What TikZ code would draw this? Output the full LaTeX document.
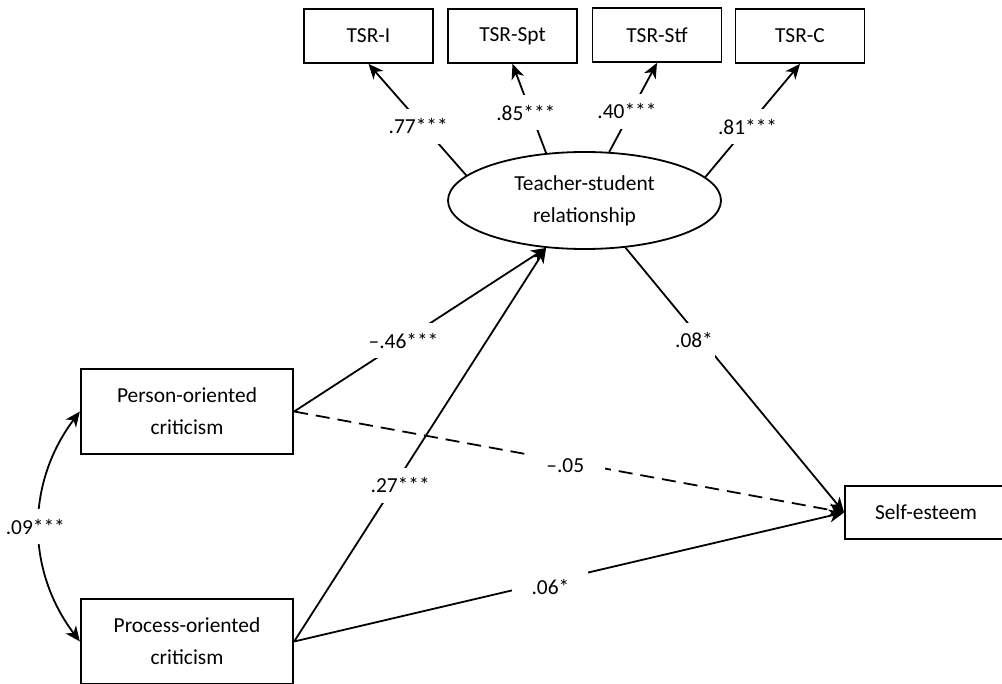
\documentclass[tikz,border=0pt]{standalone}
\usepackage{fontspec}
\setmainfont{Carlito}
\usetikzlibrary{shapes.geometric,arrows.meta}
\begin{document}
\begin{tikzpicture}[x=0.5pt,y=-0.5pt,
  every node/.style={font=\fontsize{10.7}{16}\selectfont},
  box/.style={draw, line width=0.9pt, rectangle, inner sep=0pt, align=center},
  tsrbox/.style={box, minimum width=64.5pt, minimum height=27pt},
  critbox/.style={box, minimum width=106.25pt, minimum height=42.5pt},
  latent/.style={draw, line width=0.9pt, ellipse, inner sep=0pt, minimum width=136.5pt, minimum height=48.5pt, align=center},
  tip/.tip={Stealth[length=7.5pt,width=6.5pt,inset=2.2pt]},
  conn/.style={line width=0.9pt, -tip},
  cov/.style={line width=0.9pt, tip-tip},
  dashline/.style={dash pattern=on 7pt off 4pt},
  lbl/.style={fill=white, inner xsep=1pt, inner ysep=0pt, minimum height=17.5pt}]
\useasboundingbox (0,0) rectangle (1002,684);

% nodes
\node[tsrbox] (tsri)   at (368.5,36) {TSR-I};
\node[tsrbox] (tsrspt) at (512.5,36) {TSR-Spt};
\node[tsrbox] (tsrstf) at (657,35)   {TSR-Stf};
\node[tsrbox] (tsrc)   at (800,36)   {TSR-C};
\node[latent] (ell) at (584.5,200.5) {Teacher-student\\relationship};
\node[critbox] (person)  at (187,411.5) {Person-oriented\\criticism};
\node[critbox] (process) at (187,641.5) {Process-oriented\\criticism};
\node[box, minimum width=81pt, minimum height=26.5pt] (self) at (926,512.5) {Self-esteem};

% loadings
\draw[conn] (ell.168.5) -- node[lbl, pos=0.44, xshift=-2.5pt]{.77***} (tsri.south);
\draw[conn] (ell.129.7) -- node[lbl, pos=0.455, xshift=-2.5pt]{.85***} (tsrspt.south);
\draw[conn] (ell.63.7) -- node[lbl, pos=0.455, xshift=-2pt]{.40***} (tsrstf.south);
\draw[conn] (ell.11) -- node[lbl, pos=0.446]{.81***} (tsrc.south);

% structural paths
\draw[conn] (person.east) -- node[lbl, pos=0.434]{\textendash.46***} (ell.231);
\draw[conn] (process.east) -- node[lbl, pos=0.397, xshift=3pt]{.27***} (ell.231);
\draw[conn] (ell.-49.5) -- node[lbl, pos=0.35, xshift=-4pt]{.08*} (self.west);
\draw[conn, dashline] (person.east) -- node[lbl, pos=0.493, minimum width=40pt, yshift=-2pt]{\textendash.05} (self.west);
\draw[conn] (process.east) -- node[lbl, pos=0.466, minimum width=38pt, yshift=-3pt]{.06*} (self.west);

% covariance
\draw[cov] (person.west) to[bend right=37] node[lbl, xshift=-2pt]{.09***} (process.west);
\end{tikzpicture}
\end{document}
